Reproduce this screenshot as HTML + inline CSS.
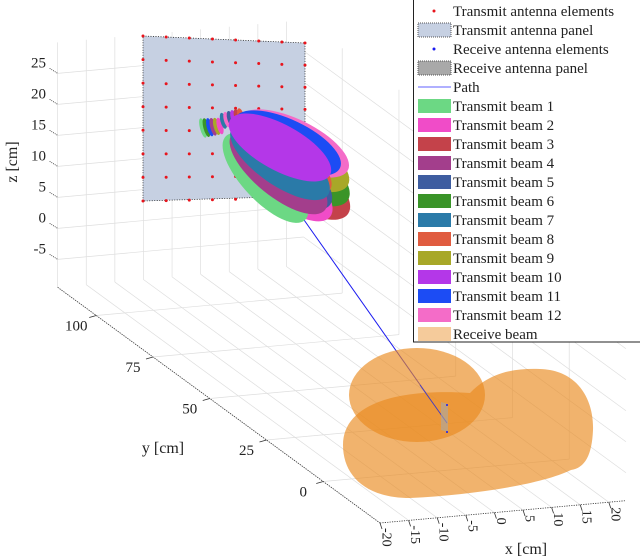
<!DOCTYPE html>
<html><head><meta charset="utf-8"><style>
html,body{margin:0;padding:0;background:#fff;}
svg{display:block;font-family:"Liberation Serif",serif;}
</style></head><body>
<svg id="c" width="640" height="558" viewBox="0 0 640 558" xmlns="http://www.w3.org/2000/svg"></svg>
<script>
const xTicks=[-20,-15,-10,-5,0,5,10,15,20];
const yTicks=[0,25,50,75,100];
const zTicks=[-5,0,5,10,15,20,25];
const beamNames=["Transmit beam 1","Transmit beam 2","Transmit beam 3","Transmit beam 4","Transmit beam 5","Transmit beam 6","Transmit beam 7","Transmit beam 8","Transmit beam 9","Transmit beam 10","Transmit beam 11","Transmit beam 12"];
const beamColors=["#6cd884","#f04cc8","#c4424a","#a33e8c","#3e5da0","#3a9428","#2a7aa8","#e05c40","#a8a828","#b437e8","#1c4cf4","#f46cc8"];
// beam start points and lobe tips (screen-space)
const beamStartX=[226,235,238,232,235,238,232,235,238,230,235,240];
const beamStartY=[136,138,136,134,132,130,128,127,125,120,118,117];
const beamEndX=[305,330,348,325,330,348,328,330,348,330,340,348];
const beamEndY=[220,217,214,210,205,200,195,190,185,175,168,170];
const beamOrder=[2,5,8,11,1,4,7,10,0,3,6,9];
const X0=-20,X1=23,Y0=-25,Y1=117,Z0=-9.5,Z1=30;
function P(x,y,z){return [380+(x+20)*5.72-(y+25)*2.27, 523-(x+20)*0.52-(y+25)*1.66-(z-Z0)*6.2];}
const NS="http://www.w3.org/2000/svg";
const svg=document.getElementById('c');
function el(t,a,p){const e=document.createElementNS(NS,t);for(const k in a)e.setAttribute(k,a[k]);(p||svg).appendChild(e);return e;}
function line(a,b,st,w,name,dash){const e=el('line',{x1:a[0],y1:a[1],x2:b[0],y2:b[1],stroke:st,'stroke-width':w});if(dash)e.setAttribute('stroke-dasharray',dash);

return e;}
const g='#dedede';
for(const z of zTicks){line(P(X0,Y1,z),P(X1,Y1,z),g,0.7,'back-grid-z');}
for(const x of xTicks){line(P(x,Y1,Z0),P(x,Y1,Z1),g,0.7,'back-grid-x');}
for(const z of zTicks){line(P(X1,Y1,z),P(X1,Y0,z),g,0.7,'side-grid-z');}
for(const y of yTicks){line(P(X1,y,Z0),P(X1,y,Z1),g,0.7,'side-grid-y');}
for(const x of xTicks){line(P(x,Y0,Z0),P(x,Y1,Z0),g,0.7,'floor-grid-x');}
for(const y of yTicks){line(P(X0,y,Z0),P(X1,y,Z0),g,0.7,'floor-grid-y');}
line(P(X0,Y1,Z0),P(X0,Y0,Z0),'#333',0.8,'y-axis-line','1.2 1.2');
line(P(X0,Y0,Z0),P(X1,Y0,Z0),'#333',0.8,'x-axis-line','1.2 1.2');
for(const z of zTicks){const p=P(X0,Y1,z);line([p[0]-8,p[1]-5],p,'#333',0.8,'z-tick','1 1');
 const t=el('text',{x:46,y:p[1]-10,'text-anchor':'end','dominant-baseline':'central','font-size':15,fill:'#222'});t.textContent=z;
 
 }
for(const y of yTicks){const p=P(X0,y,Z0);line([p[0]-7,p[1]+2],p,'#333',0.8,'y-tick');
 const t=el('text',{x:p[0]-20,y:p[1]+11,'text-anchor':'middle','dominant-baseline':'central','font-size':15,fill:'#222'});t.textContent=y;
 
 }
for(const x of xTicks){const p=P(x,Y0,Z0);line(p,[p[0]+2,p[1]+6],'#333',0.8,'x-tick');
 const t=el('text',{x:0,y:0,transform:`translate(${p[0]+6},${p[1]+5}) rotate(90)`,'dominant-baseline':'central','font-size':14,fill:'#222'});t.textContent=x;
 
 }
let t=el('text',{x:0,y:0,transform:'translate(17,162) rotate(-90)','text-anchor':'middle','font-size':16,fill:'#222'});t.textContent='z [cm]';

t=el('text',{x:163,y:453,'text-anchor':'middle','font-size':16,fill:'#222'});t.textContent='y [cm]';

t=el('text',{x:526,y:554,'text-anchor':'middle','font-size':16,fill:'#222'});t.textContent='x [cm]';

let e=el('polygon',{points:'143,36 305,43 305,196 143,201',fill:'#c6d0e2',stroke:'#222','stroke-width':0.8,'stroke-dasharray':'1 1.5'});

for(let i=0;i<8;i++)for(let j=0;j<8;j++){const u=i/7,v=j/7;const x=143+162*u,y=36+7*u+v*(165-10*u);
 e=el('circle',{cx:x,cy:y,r:1.5,fill:'#e8141c'});
 
 }
// path
e=el('line',{x1:290,x2:447,y1:200,y2:423,stroke:'#1a1af0','stroke-width':1});

// sidelobes
for(let k=0;k<12;k++){const c=beamColors[(k*5)%12];const cx=203+k*3.4,cy=128-k*1.2+(k<6?k*0.8:0);
 e=el('ellipse',{cx:cx,cy:cy,rx:3,ry:10-k*0.3,fill:c,transform:`rotate(-15 ${cx} ${cy})`});
 }
// beams
for(const i of beamOrder){const sx=beamStartX[i],sy=beamStartY[i],ex=beamEndX[i],ey=beamEndY[i];const cx=(sx+ex)/2,cy=(sy+ey)/2;
 const L=Math.hypot(ex-sx,ey-sy);const ang=Math.atan2(ey-sy,ex-sx)*180/Math.PI;
 e=el('ellipse',{cx:cx,cy:cy,rx:L/2,ry:L*0.2,fill:beamColors[i],transform:`rotate(${ang} ${cx} ${cy})`});
 
 }
</script>
<svg width="640" height="558" style="position:absolute;left:0;top:0">
<g opacity="0.65" fill="#e98a1f">
<path d="M343,445 C343,405 395,388 470,393 C490,372 515,368 540,369 C578,370 594,400 593,430 C592,455 585,468 571,470 C540,485 470,495 410,498 C365,498 343,475 343,445Z"/></g>
<g opacity="0.65" fill="#e98a1f"><ellipse cx="417" cy="395" rx="68" ry="47"/></g>
<line x1="420" y1="385" x2="447" y2="423" stroke="#3a3ad0" stroke-width="0.8"/>
<polygon points="441,402 448,404 448,432 441,430" fill="#a9a9a9" opacity="0.6"/>
<circle cx="447" cy="405" r="1" fill="#1a1af0"/>
<circle cx="447" cy="432" r="1" fill="#1a1af0"/>
<g font-family="Liberation Serif, serif" font-size="15" fill="#222">
<rect x="413.5" y="-1" width="230" height="343" fill="#fff" stroke="#222" stroke-width="1"/>
<circle cx="434" cy="11" r="1.5" fill="#e8141c"/><text x="453" y="16">Transmit antenna elements</text>
<rect x="418" y="23" width="33" height="14" fill="#c6d0e2" stroke="#555" stroke-dasharray="1 1"/><text x="453" y="35">Transmit antenna panel</text>
<circle cx="434" cy="49" r="1.5" fill="#1a1af0"/><text x="453" y="54">Receive antenna elements</text>
<rect x="418" y="61" width="33" height="14" fill="#a9a9a9" stroke="#555" stroke-dasharray="1 1"/><text x="453" y="73">Receive antenna panel</text>
<line x1="418" y1="87" x2="451" y2="87" stroke="#8080ff" stroke-width="1.2"/><text x="453" y="92">Path</text>
</g>
<g id="leg2" font-family="Liberation Serif, serif" font-size="15" fill="#222"></g>
</svg>
<script>
const lg=document.getElementById('leg2');
const names2=beamNames.concat(["Receive beam"]);
const cols2=beamColors.concat(["#f5cb9b"]);
for(let k=0;k<names2.length;k++){const y=106+19*k;
 const r=document.createElementNS(NS,'rect');r.setAttribute('x',418);r.setAttribute('y',y-7);r.setAttribute('width',33);r.setAttribute('height',14);r.setAttribute('fill',cols2[k]);
 
 
 lg.appendChild(r);
 const tx=document.createElementNS(NS,'text');tx.setAttribute('x',453);tx.setAttribute('y',y+5);tx.textContent=names2[k];
 
 
 lg.appendChild(tx);}
</script>
</body></html>
